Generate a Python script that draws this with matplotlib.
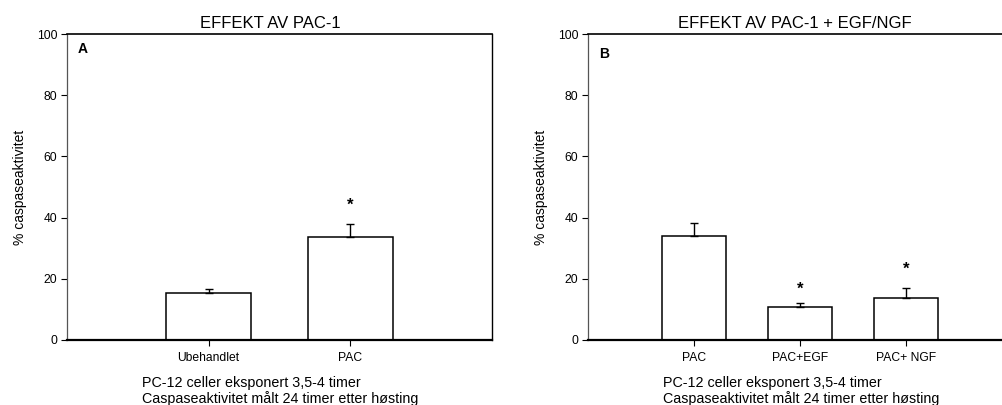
import numpy as np
import matplotlib
matplotlib.use("Agg")
from matplotlib import pyplot as plt

plt.rcParams["font.family"] = ["Liberation Sans", "DejaVu Sans"]

# panel A
cats_a = ["Ubehandlet", "PAC"]
vals_a = [15.3, 33.8]
err_a = [1.4, 4.2]
star_a = [None, 44.7]

# panel B
cats_b = ["PAC", "PAC+EGF", "PAC+ NGF"]
vals_b = [34.0, 10.8, 13.6]
err_b = [4.1, 1.2, 3.3]
star_b = [None, 17.2, 23.6]

titles = ["EFFEKT AV PAC-1", "EFFEKT AV PAC-1 + EGF/NGF"]
ylabel = "% caspaseaktivitet"
caption = ["PC-12 celler eksponert 3,5-4 timer",
           "Caspaseaktivitet målt 24 timer etter høsting"]


def draw_panel(ax, cats, vals, errs, stars, letter, title, title_x, letter_y, xlim):
    x = np.arange(len(cats))
    ax.bar(x, vals, width=0.6, color="white", edgecolor="black", linewidth=1.1, zorder=2)
    ax.errorbar(x, vals, yerr=[np.zeros(len(errs)), errs], fmt="none",
                ecolor="black", elinewidth=1.0, capsize=3, capthick=1.0, zorder=3)
    for xi, s in zip(x, stars):
        if s is not None:
            # '*' glyph sits high in its box, so anchor the baseline a bit below
            ax.text(xi, s - 2.0, "*", ha="center", va="baseline", fontsize=12,
                    fontweight="bold")
    ax.set_xlim(*xlim)
    ax.set_ylim(0, 100)
    ax.set_xticks(x)
    ax.set_xticklabels(cats, fontsize=8.7)
    ax.set_yticks([0, 20, 40, 60, 80, 100])
    ax.tick_params(axis="y", direction="out", length=4, width=0.8, labelsize=8.7, pad=3)
    ax.tick_params(axis="x", direction="out", length=4, width=0.8, pad=5)
    ax.spines["top"].set_linewidth(1.2)
    ax.spines["right"].set_linewidth(1.0)
    ax.spines["left"].set_linewidth(0.9)
    ax.spines["left"].set_color("#555555")
    ax.spines["bottom"].set_linewidth(1.6)
    ax.set_ylabel(ylabel, fontsize=10)
    ax.yaxis.set_label_coords(-0.094, 0.5)
    ax.text(title_x, 1.033, title, transform=ax.transAxes, ha="center", va="center", fontsize=12)
    ax.text(0.026, letter_y, letter, transform=ax.transAxes, ha="left", va="center",
            fontsize=10, fontweight="bold")


fig = plt.figure(figsize=(10.02, 4.05), dpi=100)
ax1 = fig.add_axes([0.0669, 0.1605, 0.4241, 0.7555])
ax2 = fig.add_axes([0.5868, 0.1605, 0.4232, 0.7555])

draw_panel(ax1, cats_a, vals_a, err_a, star_a, "A", titles[0], 0.478, 0.951, (-1, 2))
draw_panel(ax2, cats_b, vals_b, err_b, star_b, "B", titles[1], 0.488, 0.935, (-1, 3))

for x0 in (142, 663):
    fig.text(x0 / 1002, 1 - 387 / 405, caption[0], ha="left", va="baseline", fontsize=10.3)
    fig.text(x0 / 1002, 1 - 403 / 405, caption[1], ha="left", va="baseline", fontsize=10.3)

fig.savefig("out.png", dpi=100)
